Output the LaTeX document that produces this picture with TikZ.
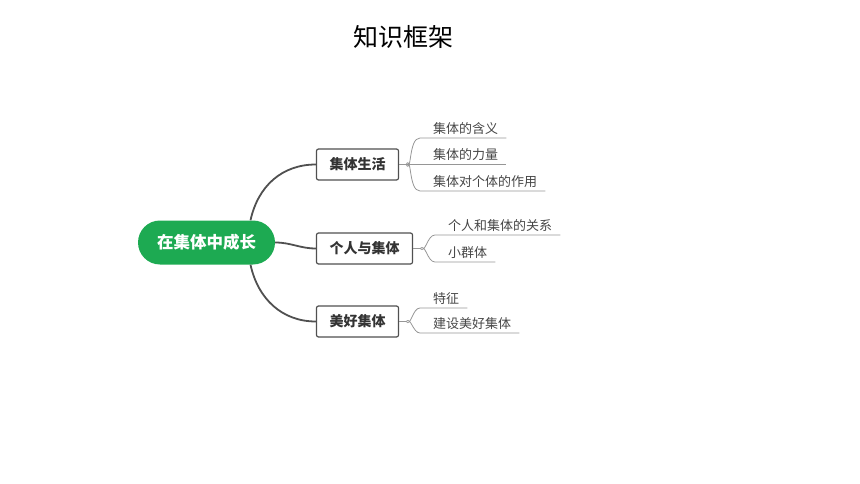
\documentclass[tikz,border=0pt]{standalone}
\usepackage{fontspec}
\usepackage{tikz}
\usetikzlibrary{calc,positioning}
\newfontfamily\cjk{Noto Sans CJK SC}
\definecolor{growgreen}{RGB}{29,170,82}
\definecolor{branchgray}{RGB}{80,80,80}
\definecolor{twiggray}{RGB}{150,150,150}
\definecolor{leaftext}{RGB}{70,70,70}
\tikzset{
  title/.style={
      font=\cjk\fontsize{25}{28}\selectfont,
      text=black,
  },
  root/.style={
      fill=growgreen,
      rounded corners=22pt,
      minimum width=137pt,
      minimum height=44pt,
      text=white,
      font=\cjk\bfseries\fontsize{16.5}{18}\selectfont,
  },
  topic/.style={
      draw=branchgray,
      line width=1.2pt,
      fill=white,
      rounded corners=2pt,
      inner xsep=13pt,
      minimum height=31pt,
      text=black!80,
      font=\cjk\bfseries\fontsize{14}{16}\selectfont,
  },
  leaf/.style={
      anchor=south west,
      inner xsep=0pt,
      inner ysep=3.5pt,
      text=leaftext,
      font=\cjk\fontsize{13}{15}\selectfont,
  },
  branch/.style={
      draw=branchgray,
      line width=1.8pt,
  },
  twig/.style={
      draw=twiggray,
      line width=0.8pt,
  },
}

\begin{document}
\begin{tikzpicture}[x=1pt,y=-1pt]
  \useasboundingbox (0,0) rectangle (860,484);

  \node(TITLE) [title] at (403,37) {知识框架};

  \node(GROW) [root] at (206.5,242.5) {在集体中成长};
  \node(LIFE) [topic] at (357.5,164.5) {集体生活};
  \node(SELF) [topic] at (364.5,248.5) {个人与集体};
  \node(GOOD) [topic] at (357.5,321.5) {美好集体};

  % leaves
  \node(LIFE1) [leaf] at (433,138) {集体的含义};
  \node(LIFE2) [leaf] at (433,164.5) {集体的力量};
  \node(LIFE3) [leaf] at (433,191) {集体对个体的作用};
  \node(SELF1) [leaf] at (448,235) {个人和集体的关系};
  \node(SELF2) [leaf] at (448,262) {小群体};
  \node(GOOD1) [leaf] at (433,308) {特征};
  \node(GOOD2) [leaf] at (433,333) {建设美好集体};

  % main branches
  \draw[branch] ($(GROW.north)+(44,0)$) .. controls (258,186) and (282,164.5) .. (LIFE.west);
  \draw[branch] (GROW.east) to[out=0,in=180] (SELF.west);
  \draw[branch] ($(GROW.south)+(44,0)$) .. controls (258,299) and (282,321.5) .. (GOOD.west);

  % twigs
  \coordinate (LIFEfork) at ($(LIFE.east)+(7,0)$);
  \coordinate (SELFfork) at ($(SELF.east)+(7,0)$);
  \coordinate (GOODfork) at ($(GOOD.east)+(7,0)$);
  \draw[twig] (LIFE.east) -- (LIFEfork);
  \draw[twig] (SELF.east) -- (SELFfork);
  \draw[twig] (GOOD.east) -- (GOODfork);

  \draw[twig] (LIFEfork) to[out=-60,in=180] ([xshift=-13pt]LIFE1.south west) -- ([xshift=8pt]LIFE1.south east);
  \draw[twig] (LIFEfork) -- ([xshift=8pt]LIFE2.south east);
  \draw[twig] (LIFEfork) to[out=60,in=180] ([xshift=-13pt]LIFE3.south west) -- ([xshift=8pt]LIFE3.south east);

  \draw[twig] (SELFfork) to[out=-45,in=180] ([xshift=-13pt]SELF1.south west) -- ([xshift=8pt]SELF1.south east);
  \draw[twig] (SELFfork) to[out=45,in=180] ([xshift=-13pt]SELF2.south west) -- ([xshift=8pt]SELF2.south east);

  \draw[twig] (GOODfork) to[out=-50,in=180] ([xshift=-13pt]GOOD1.south west) -- ([xshift=8pt]GOOD1.south east);
  \draw[twig] (GOODfork) to[out=50,in=180] ([xshift=-13pt]GOOD2.south west) -- ([xshift=8pt]GOOD2.south east);
\end{tikzpicture}
\end{document}
